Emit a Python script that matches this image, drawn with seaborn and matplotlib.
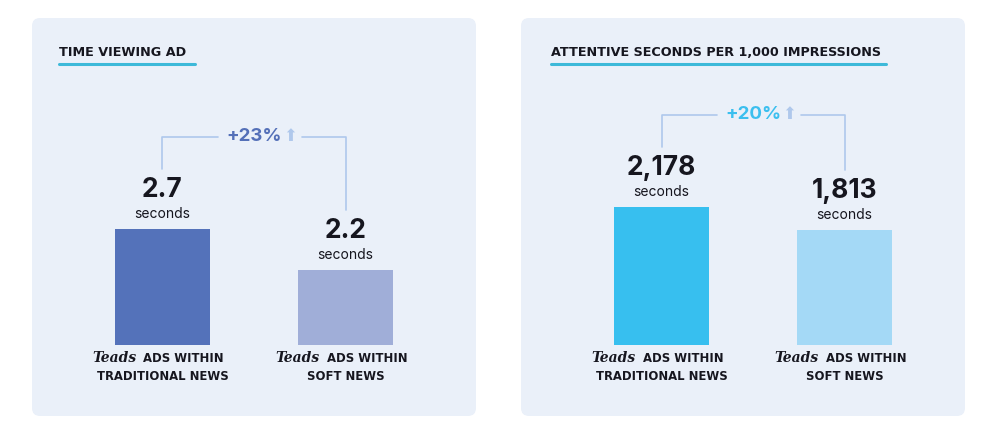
import matplotlib
matplotlib.use("Agg")
import matplotlib.pyplot as plt
import seaborn as sns
import pandas as pd
from matplotlib.patches import FancyBboxPatch

sns.set_theme(style="white")
plt.rcParams["font.family"] = ["Inter", "DejaVu Sans"]

# data
categories = ["traditional", "soft"]
time_values = [2.7, 2.2]
time_labels = ["2.7", "2.2"]
attentive_values = [2178, 1813]
attentive_labels = ["2,178", "1,813"]
line1 = ["ADS WITHIN", "ADS WITHIN"]
line2 = ["TRADITIONAL NEWS", "SOFT NEWS"]
time_lift = "+23%"
attentive_lift = "+20%"

BG = "#EAF0F9"
DARK = "#16161F"
BRACKET = "#AFC8EC"

fig = plt.figure(figsize=(10, 4.4), dpi=100)
fig.patch.set_facecolor("white")

PX = 0.72  # points per pixel at 100 dpi


def panel(x0, tx, title, title_w, values, labels, colors, lift, lift_color,
          xlim, ylim):
    # rounded background card
    card = FancyBboxPatch((x0 / 100, 0.24), 4.44, 3.98,
                          boxstyle="round,pad=0,rounding_size=0.08",
                          transform=fig.dpi_scale_trans,
                          facecolor=BG, edgecolor="none", zorder=-5)
    fig.patches.append(card)

    ax = fig.add_axes([x0 / 1000, (440 - 345) / 440, 0.444, 327 / 440])
    ax.patch.set_alpha(0)
    df = pd.DataFrame({"cat": categories, "val": values})
    sns.barplot(data=df, x="cat", y="val", hue="cat", palette=colors,
                width=0.52, legend=False, ax=ax, saturation=1, linewidth=0)
    ax.set_xlim(*xlim)
    ax.set_ylim(*ylim)
    ax.axis("off")

    xt = ax.get_xaxis_transform()
    # title + underline (figure pixels)
    fig.text(tx / 1000, 1 - 53 / 440, title, fontsize=9.2,
             fontweight="bold", color=DARK, va="center", ha="left",
             family="DejaVu Sans")
    fig.add_artist(plt.Line2D([tx / 1000, (tx + title_w) / 1000],
                              [1 - 64 / 440] * 2, color="#3DB9D9", lw=2.2,
                              transform=fig.transFigure))

    for i, (v, lab) in enumerate(zip(values, labels)):
        ax.annotate(lab, xy=(i, v), xytext=(0, 39 * PX), textcoords="offset points",
                    ha="center", va="center", fontsize=19, fontweight="bold",
                    color=DARK)
        ax.annotate("seconds", xy=(i, v), xytext=(0, 15 * PX),
                    textcoords="offset points", ha="center", va="center",
                    fontsize=10, color=DARK)
        # category labels under bars
        ax.annotate("Teads", xy=(i, 0), xycoords=xt, xytext=(-26 * PX, -13 * PX),
                    textcoords="offset points", ha="right", va="center",
                    fontsize=10, fontstyle="italic", fontweight="bold",
                    family="DejaVu Serif", color=DARK)
        ax.annotate(line1[i], xy=(i, 0), xycoords=xt, xytext=(-19 * PX, -13 * PX),
                    textcoords="offset points", ha="left", va="center",
                    fontsize=8.4, fontweight="bold", color=DARK,
                    family="DejaVu Sans")
        ax.annotate(line2[i], xy=(i, 0), xycoords=xt, xytext=(0, -31 * PX),
                    textcoords="offset points", ha="center", va="center",
                    fontsize=8.4, fontweight="bold", color=DARK,
                    family="DejaVu Sans")

    # bracket showing the lift
    top = max(values)
    span = ylim[1] - ylim[0]
    to_frac = lambda v, off: (v - ylim[0]) / span + off / 327
    y_top = to_frac(top, 92)
    ax.plot([0, 0, 0.5 - 36 / 183], [to_frac(values[0], 60), y_top, y_top],
            transform=xt, color=BRACKET, lw=1.2, clip_on=False)
    ax.plot([0.5 + 48 / 183, 1, 1], [y_top, y_top, to_frac(values[1], 60)],
            transform=xt, color=BRACKET, lw=1.2, clip_on=False)
    ax.text(0.5, y_top, lift, transform=xt, ha="center", va="center",
            fontsize=13.5, fontweight="bold", color=lift_color)
    ax.annotate("⬆", xy=(0.5, y_top), xycoords=xt, xytext=(36 * PX, 1 * PX),
                textcoords="offset points", ha="center", va="center",
                fontsize=12, color=BRACKET, family="DejaVu Sans")
    return ax


panel(32, 59, "TIME VIEWING AD", 136, time_values, time_labels,
      ["#5472BA", "#A0AED8"], time_lift, "#5470B8",
      (-0.713, 1.713), (1.285, 1.285 + 327 / 82))
panel(521, 551, "ATTENTIVE SECONDS PER 1,000 IMPRESSIONS", 335, attentive_values,
      attentive_labels, ["#37BFEF", "#A4D9F6"], attentive_lift, "#3BBFEF",
      (-0.768, 1.658), (0, 327 / 0.0634))

fig.savefig("out.png", dpi=100)
